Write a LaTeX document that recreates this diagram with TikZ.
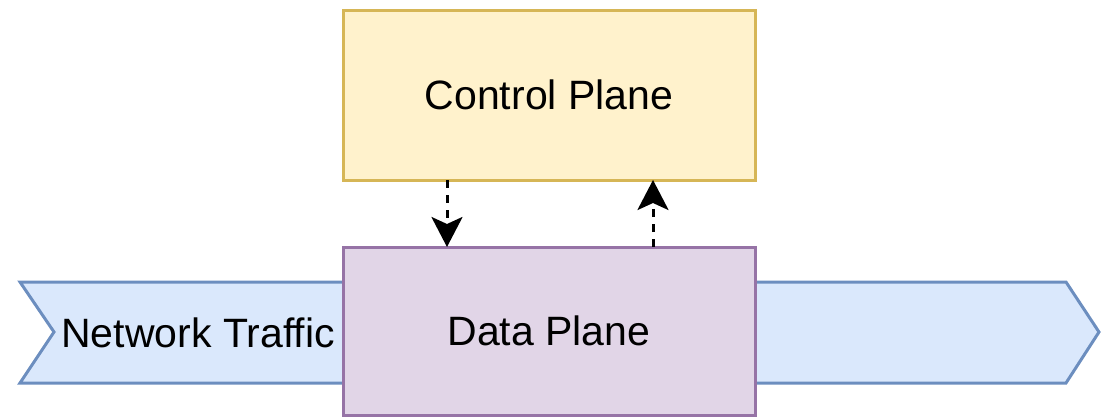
\documentclass[tikz,border=0pt]{standalone}
\usepackage{fontspec}
\setmainfont{Liberation Sans}
\usetikzlibrary{arrows.meta}
\definecolor{ctrlfill}{HTML}{FFF2CC}
\definecolor{ctrldraw}{HTML}{D6B656}
\definecolor{datafill}{HTML}{E1D5E7}
\definecolor{datadraw}{HTML}{9673A6}
\definecolor{flowfill}{HTML}{DAE8FC}
\definecolor{flowdraw}{HTML}{6C8EBF}
\tikzset{
  planebox/.style={rectangle, line width=3pt, minimum width=412pt, inner sep=0pt, font=\fontsize{41}{49}\selectfont},
  label/.style={inner sep=0pt, font=\fontsize{41}{49}\selectfont},
  signal/.style={line width=3pt, dash pattern=on 8pt off 7pt, -{Stealth[length=30pt, width=31pt, inset=7pt]}}
}
\begin{document}
\begin{tikzpicture}[x=1pt, y=-1pt]
\useasboundingbox (0,0) rectangle (1112,418);
% traffic band passing through the data plane
\filldraw[line width=3pt, draw=flowdraw, fill=flowfill, line join=miter]
  (20,282) -- (1066,282) -- (1099,332) -- (1066,383) -- (20,383) -- (54,332) -- cycle;
\node[label] (traffic) at (198,333) {Network Traffic};
% control and data planes
\node[planebox, draw=ctrldraw, fill=ctrlfill, minimum height=170pt] (ctrl) at (549,95) {Control Plane};
\node[planebox, draw=datadraw, fill=datafill, minimum height=168pt] (data) at (549,331) {Data Plane};
% interactions between the planes
\coordinate (downtop) at (447,180);
\coordinate (downbot) at (447,247);
\coordinate (uptop) at (653,180);
\coordinate (upbot) at (653,247);
\draw[signal] (downtop) -- (downbot);
\draw[signal] (upbot) -- (uptop);
\end{tikzpicture}
\end{document}
